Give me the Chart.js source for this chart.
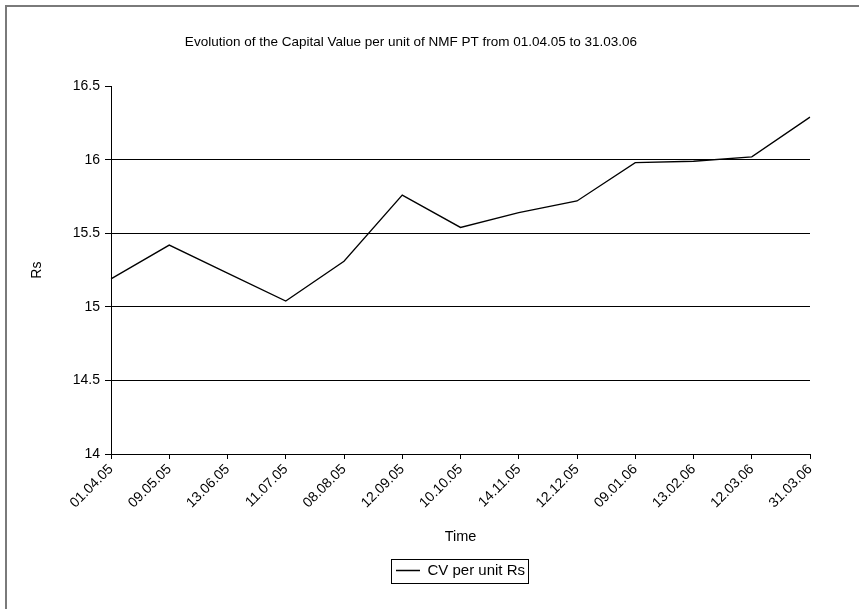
<!DOCTYPE html>
<html>
<head>
<meta charset="utf-8">
<script src="https://cdn.jsdelivr.net/npm/chart.js@4"></script>
<style>
  body { margin: 0; background: #fff; }
  #frame { position: absolute; left: 5px; top: 5px; width: 900px; height: 700px;
           border-left: 2px solid #7a7a7a; border-top: 2px solid #7a7a7a; }
  #wrap { position: absolute; left: 0; top: 0; width: 859px; height: 609px; }
</style>
</head>
<body>
<div id="frame"></div>
<div id="wrap"><canvas id="cvChart"></canvas></div>
<script>
const dates = [
  "01.04.05", "09.05.05", "13.06.05", "11.07.05", "08.08.05", "12.09.05", "10.10.05",
  "14.11.05", "12.12.05", "09.01.06", "13.02.06", "12.03.06", "31.03.06",
];
const cvPerUnit = [15.19, 15.42, 15.23, 15.04, 15.31, 15.76, 15.54, 15.64, 15.72, 15.98, 15.99, 16.02, 16.29];
const yMin = 14;
const yMax = 16.5;
const yStep = 0.5;

const font = "'Liberation Sans', Arial, sans-serif";

// legend sits under the plot, not under the title: move it over
const legendShift = {
  id: "legendShift",
  afterLayout(chart) {
    const lg = chart.legend;
    const ca = chart.chartArea;
    const dx = (ca.left + ca.right) / 2 - (lg.left + lg.right) / 2;
    lg.left += dx;
    lg.right += dx;
  },
};

// box round the legend, like the excel one
const legendBox = {
  id: "legendBox",
  afterDraw(chart) {
    const hb = chart.legend.legendHitBoxes[0];
    if (!hb) return;
    const ctx = chart.ctx;
    ctx.save();
    ctx.strokeStyle = "#000";
    ctx.lineWidth = 1;
    const cy = hb.top + hb.height / 2;
    ctx.strokeRect(Math.round(hb.left - 5) + 0.5, Math.round(cy - 12) + 0.5, Math.round(hb.width + 8), 24);
    ctx.restore();
  },
};

let ctxCV = document.getElementById("cvChart").getContext("2d");
let cvChart = new Chart(ctxCV, {
  type: "line",
  data: {
    labels: dates,
    datasets: [
      {
        label: "CV per unit Rs",
        data: cvPerUnit,
        fill: false,
        borderColor: "#000",
        backgroundColor: "#000",
        borderWidth: 1.3,
        pointRadius: 0,
        tension: 0,
      },
    ],
  },
  options: {
    responsive: true,
    maintainAspectRatio: false,
    animation: false,
    layout: { padding: { top: 0, left: 12, right: 49, bottom: 21 } },
    plugins: {
      title: {
        display: true,
        text: "Evolution of the Capital Value per unit of NMF PT from 01.04.05 to 31.03.06",
        color: "#000",
        font: { family: font, size: 13.5, weight: "normal" },
        padding: { top: 34, bottom: 36 },
      },
      legend: {
        position: "bottom",
        labels: {
          color: "#000",
          font: { family: font, size: 15 },
          boxWidth: 24,
          boxHeight: 0,
          padding: 10,
        },
      },
      tooltip: { enabled: false },
    },
    scales: {
      x: {
        afterFit(scale) { scale.height = 99; },
        grid: { drawOnChartArea: false, tickColor: "#000", tickLength: 5 },
        border: { display: true, color: "#000", width: 1 },
        ticks: {
          color: "#000",
          font: { family: font, size: 14 },
          minRotation: 45,
          maxRotation: 45,
          autoSkip: false,
          padding: 2,
        },
        title: {
          display: true,
          text: "Time",
          color: "#000",
          font: { family: font, size: 14.5 },
          padding: { top: 0, bottom: 7 },
        },
      },
      y: {
        min: yMin,
        max: yMax,
        afterFit(scale) { scale.width = 99; },
        grid: {
          color: (c) => (c.tick && (c.tick.value === yMax || c.tick.value === yMin) ? "rgba(0,0,0,0)" : "#000"),
          tickColor: "#000",
          tickLength: 6,
        },
        border: { display: true, color: "#000", width: 1 },
        ticks: {
          stepSize: yStep,
          color: "#000",
          font: { family: font, size: 14 },
          padding: 5,
          callback: (v) => String(v),
        },
        title: {
          display: true,
          text: "Rs",
          color: "#000",
          font: { family: font, size: 14 },
          padding: { top: 17, bottom: 0 },
        },
      },
    },
  },
  plugins: [legendShift, legendBox],
});
</script>
</body>
</html>
